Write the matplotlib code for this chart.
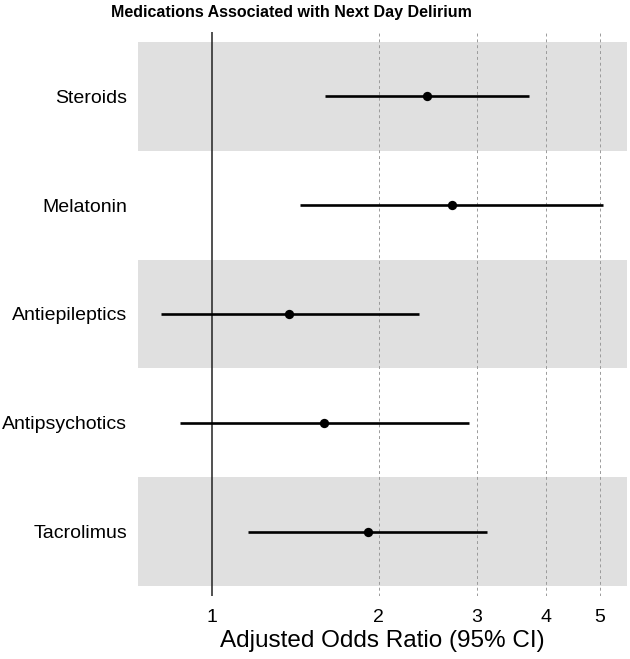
import matplotlib
matplotlib.use("Agg")
import matplotlib.pyplot as plt
import numpy as np
from matplotlib.ticker import FixedLocator, NullLocator, FixedFormatter

plt.rcParams['font.family'] = ['Liberation Sans', 'DejaVu Sans']

medications = ["Steroids", "Melatonin", "Antiepileptics", "Antipsychotics", "Tacrolimus"]
odds_ratio = [2.44, 2.71, 1.38, 1.59, 1.91]
ci_low = [1.60, 1.44, 0.81, 0.876, 1.16]
ci_high = [3.73, 5.07, 2.36, 2.91, 3.13]
x_ticks = [1, 2, 3, 4, 5]
x_tick_labels = ["1", "2", "3", "4", "5"]

fig = plt.figure(figsize=(6.30, 6.59), dpi=100)
ax = fig.add_axes([138/630, 1-596/659, (627-138)/630, (596-32)/659])

n = len(medications)
ypos = np.arange(n, 0, -1)  # Steroids at top

ax.set_xscale('log')
ax.set_xlim(0.736, 5.6)
ax.set_ylim(0.408, n + 0.592)

# bands
for i, y in enumerate(ypos):
    if i % 2 == 0:
        ax.axhspan(y - 0.5, y + 0.5, color='#E0E0E0', lw=0, zorder=0)

# grid lines
for t in x_ticks[1:]:
    ax.axvline(t, color='#9a9a9a', lw=0.7, ls=(0, (3, 3)), zorder=1)
ax.axvline(1, color='#222222', lw=1.1, zorder=2)

for y, o, lo, hi in zip(ypos, odds_ratio, ci_low, ci_high):
    ax.plot([lo, hi], [y, y], color='black', lw=1.9, solid_capstyle='butt', zorder=3)
ax.scatter(odds_ratio, ypos, s=45, color='black', zorder=4, linewidths=0)

ax.xaxis.set_major_locator(FixedLocator(x_ticks))
ax.xaxis.set_major_formatter(FixedFormatter(x_tick_labels))
ax.xaxis.set_minor_locator(NullLocator())
ax.set_yticks(ypos)
ax.set_yticklabels(medications)
ax.tick_params(axis='both', length=0, labelsize=14, colors='black')
ax.tick_params(axis='x', pad=9)
ax.tick_params(axis='y', pad=8)
for s in ax.spines.values():
    s.set_visible(False)

ax.set_xlabel("Adjusted Odds Ratio (95% CI)", fontsize=17.5, labelpad=3)
fig.text(291.5/630, 1-12/659, "Medications Associated with Next Day Delirium",
         ha='center', va='center', fontsize=11.5, fontweight='bold')

fig.savefig("out.png", dpi=100)
